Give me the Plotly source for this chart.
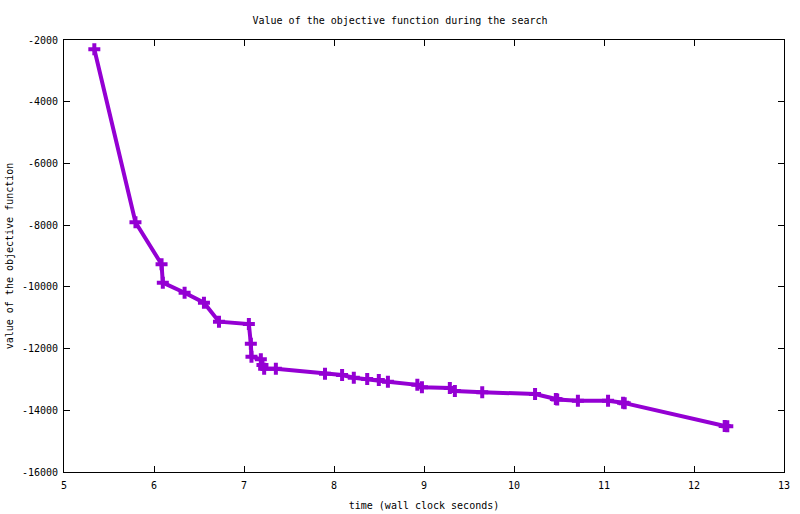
import plotly.graph_objects as go

# wall clock time (s) and objective value
times = [5.337, 5.794, 6.084, 6.098, 6.34, 6.555, 6.722, 7.054, 7.076, 7.083,
         7.187, 7.205, 7.224, 7.354, 7.90, 8.09, 8.22, 8.369, 8.498, 8.599,
         8.926, 8.977, 9.287, 9.343, 9.647, 10.234, 10.465, 10.48, 10.71, 11.045,
         11.212, 11.23, 12.341, 12.37]
values = [-2300, -7907, -9268, -9865, -10189, -10513, -11128, -11205, -11840, -12262,
          -12347, -12532, -12651, -12651, -12820, -12855, -12943, -12985, -13017, -13072,
          -13175, -13254, -13277, -13374, -13416, -13471, -13633, -13650, -13688, -13688,
          -13753, -13770, -14508, -14520]

x_ticks = [5, 6, 7, 8, 9, 10, 11, 12, 13]
y_ticks = [-2000, -4000, -6000, -8000, -10000, -12000, -14000, -16000]

font = "DejaVu Sans Mono"

fig = go.Figure()
fig.add_trace(go.Scatter(
    x=times, y=values,
    mode="lines+markers",
    line=dict(color="#9400D3", width=4),
    marker=dict(symbol="cross", size=10, color="#9400D3"),
    showlegend=False,
))

axis_common = dict(
    showline=True, linecolor="black", linewidth=1, mirror="ticks",
    ticks="inside", ticklen=6, tickcolor="black",
    showgrid=False, zeroline=False,
    tickfont=dict(family=font, size=10, color="black"),
)

fig.update_layout(
    width=800, height=514,
    margin=dict(l=64, r=16, t=40, b=42, autoexpand=False),
    paper_bgcolor="white", plot_bgcolor="white",
    font=dict(family=font, size=10, color="black"),
    title=dict(text="Value of the objective function during the search",
               x=0.5, xanchor="center", y=1 - 20 / 514, yanchor="middle",
               font=dict(family=font, size=10, color="black")),
    xaxis=dict(axis_common, range=[5, 13], tickvals=x_ticks,
               ticktext=[str(t) for t in x_ticks], ticklabelstandoff=4,
               title=dict(text="time (wall clock seconds)", standoff=11,
                          font=dict(family=font, size=10))),
    yaxis=dict(axis_common, range=[-16000, -2000], tickvals=y_ticks,
               ticktext=[str(t) for t in y_ticks], ticklabelstandoff=3,
               title=dict(text="value of the objective function", standoff=6,
                          font=dict(family=font, size=10))),
)

# drop the page's default body margin so the figure sits at the window corner
fig.write_html("out.html", config={"displayModeBar": False},
               post_script="document.body.style.margin='0px';")
